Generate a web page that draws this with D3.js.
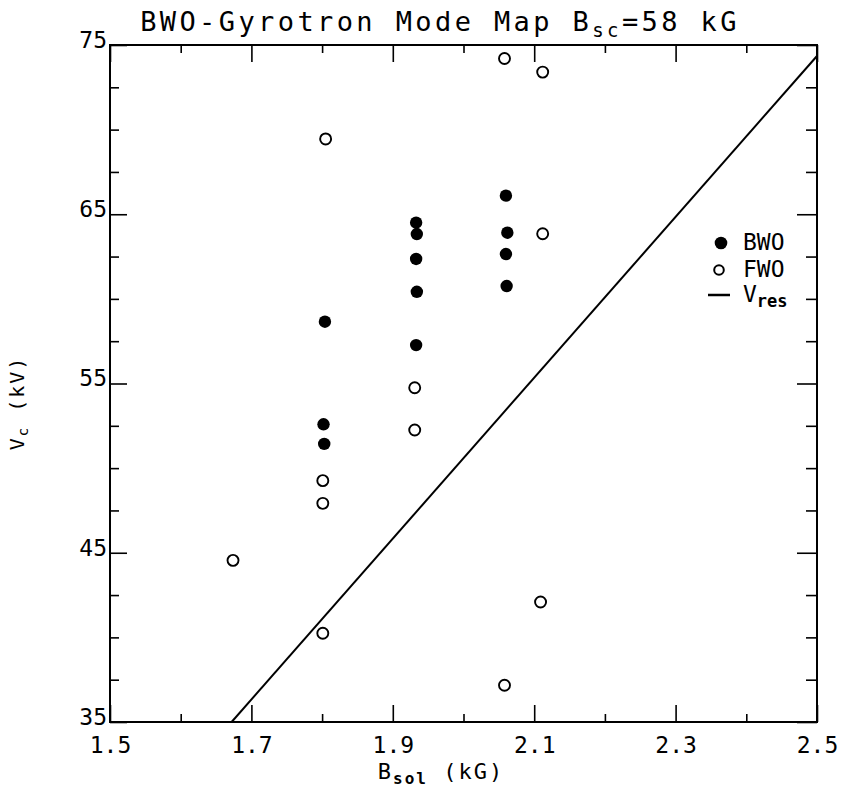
<!DOCTYPE html>
<html><head><meta charset="utf-8">
<script src="https://cdn.jsdelivr.net/npm/d3@7"></script>
<style>
body{margin:0;background:#fff}
svg text{font-family:"DejaVu Sans Mono",monospace;fill:#000}
</style>
</head><body><svg id="c" width="847" height="789"></svg>
<script>
// ---- data ----
const bwoB = [1.804, 1.802, 1.803, 1.933, 1.934, 1.933, 1.934, 1.933, 2.060, 2.062, 2.060, 2.061];
const bwoV = [58.65, 52.59, 51.43, 64.50, 63.83, 62.36, 60.42, 57.27, 66.10, 63.91, 62.65, 60.76];
const fwoB = [1.805, 1.801, 1.801, 1.801, 1.674, 1.931, 1.931, 2.058, 2.112, 2.112, 2.109, 2.058];
const fwoV = [69.45, 49.26, 47.92, 40.24, 44.55, 54.75, 52.25, 74.20, 73.40, 63.85, 42.09, 37.17];
const vresB = [1.672, 2.5];
const vresV = [35, 74.35];
const xTicks = [1.5, 1.7, 1.9, 2.1, 2.3, 2.5];
const xMinor = [1.6, 1.8, 2.0, 2.2, 2.4];
const yTicks = [35, 45, 55, 65, 75];
const yMinor = [37.5, 40, 42.5, 47.5, 50, 52.5, 57.5, 60, 62.5, 67.5, 70, 72.5];
const legendNames = ["BWO", "FWO", "V"];
const legendSubs = ["", "", "res"];

const svg = d3.select("#c");
const L = 110, R = 817, T = 45, B = 722;
const x = d3.scaleLinear().domain([1.5, 2.5]).range([L, R]);
const y = d3.scaleLinear().domain([35, 75]).range([B, T]);

function axisStyle(g){
  g.select(".domain").remove();
  g.selectAll("line").attr("stroke","#000").attr("stroke-width",1.6);
  g.selectAll("text").style("font-size","23px").attr("fill","#000");
}
function ticks(axisFn, pos, vals, len, fmt){
  const a = axisFn.tickValues(vals).tickSize(-len);
  a.tickFormat(fmt || "");
  return a;
}
// bottom
svg.append("g").attr("transform",`translate(0,${B})`)
  .call(d3.axisBottom(x).tickValues(xTicks).tickSize(-17).tickPadding(15).tickFormat(d3.format(".1f")))
  .call(axisStyle);
svg.append("g").attr("transform",`translate(0,${B})`)
  .call(d3.axisBottom(x).tickValues(xMinor).tickSize(-8).tickFormat(""))
  .call(axisStyle);
// top
svg.append("g").attr("transform",`translate(0,${T})`)
  .call(d3.axisTop(x).tickValues(xTicks).tickSize(-17).tickFormat(""))
  .call(axisStyle);
svg.append("g").attr("transform",`translate(0,${T})`)
  .call(d3.axisTop(x).tickValues(xMinor).tickSize(-8).tickFormat(""))
  .call(axisStyle);
// left
const gl = svg.append("g").attr("transform",`translate(${L},0)`)
  .call(d3.axisLeft(y).tickValues(yTicks).tickSize(-17).tickPadding(3).tickFormat(d3.format("d")))
  .call(axisStyle);
gl.selectAll("text").attr("dy","0.1em");
svg.append("g").attr("transform",`translate(${L},0)`)
  .call(d3.axisLeft(y).tickValues(yMinor).tickSize(-9).tickFormat(""))
  .call(axisStyle);
// right
svg.append("g").attr("transform",`translate(${R},0)`)
  .call(d3.axisRight(y).tickValues(yTicks).tickSize(-20).tickFormat(""))
  .call(axisStyle);
svg.append("g").attr("transform",`translate(${R},0)`)
  .call(d3.axisRight(y).tickValues(yMinor).tickSize(-11).tickFormat(""))
  .call(axisStyle);

// frame
svg.append("rect").attr("x",L).attr("y",T).attr("width",R-L).attr("height",B-T)
  .attr("fill","none").attr("stroke","#000").attr("stroke-width",2);

// V_res line
const line = d3.line().x(d=>x(d[0])).y(d=>y(d[1]));
svg.append("path").datum(vresB.map((b,i)=>[b,vresV[i]]))
  .attr("d",line).attr("fill","none").attr("stroke","#000").attr("stroke-width",2);

// points
svg.append("g").selectAll("circle").data(bwoB.map((b,i)=>[b,bwoV[i]])).join("circle")
  .attr("cx",d=>x(d[0])).attr("cy",d=>y(d[1])).attr("r",6.2).attr("fill","#000");
svg.append("g").selectAll("circle").data(fwoB.map((b,i)=>[b,fwoV[i]])).join("circle")
  .attr("cx",d=>x(d[0])).attr("cy",d=>y(d[1])).attr("r",5.5).attr("fill","none")
  .attr("stroke","#000").attr("stroke-width",1.9);

// legend
const lx = 719, rows = [243, 270, 295];
const lg = svg.append("g");
lg.append("circle").attr("cx",lx+2).attr("cy",rows[0]).attr("r",6.3).attr("fill","#000");
lg.append("circle").attr("cx",lx).attr("cy",rows[1]).attr("r",4.8).attr("fill","none").attr("stroke","#000").attr("stroke-width",2);
lg.append("line").attr("x1",lx-11).attr("x2",lx+11).attr("y1",rows[2]).attr("y2",rows[2]).attr("stroke","#000").attr("stroke-width",2.5);
legendNames.forEach((n,i)=>{
  const t = lg.append("text").attr("x",743).attr("y",rows[i]+7).style("font-size","23px");
  t.append("tspan").text(n);
  if(legendSubs[i]) t.append("tspan").attr("dy",5).style("font-size","17px").style("font-weight","bold").text(legendSubs[i]);
});

// title
const tt = svg.append("text").attr("x",440).attr("y",31).attr("text-anchor","middle")
  .style("font-size","27px").style("letter-spacing","3.4px");
tt.append("tspan").text("BWO-Gyrotron Mode Map B");
tt.append("tspan").attr("dy",6).style("font-size","19px").text("sc");
tt.append("tspan").attr("dy",-6).text("=58 kG");

// x label
const xl = svg.append("text").attr("x",441).attr("y",779).attr("text-anchor","middle")
  .style("font-size","22px").style("letter-spacing","2px");
xl.append("tspan").text("B");
xl.append("tspan").attr("dy",5).style("font-size","16px").style("font-weight","bold").text("sol");
xl.append("tspan").attr("dy",-5).text(" (kG)");

// y label
const yl = svg.append("text").attr("transform","translate(24,403) rotate(-90)").attr("text-anchor","middle")
  .style("font-size","20px").style("letter-spacing","2px");
yl.append("tspan").text("V");
yl.append("tspan").attr("dy",4).style("font-size","14px").text("c");
yl.append("tspan").attr("dy",-4).text(" (kV)");
</script>
</body></html>
